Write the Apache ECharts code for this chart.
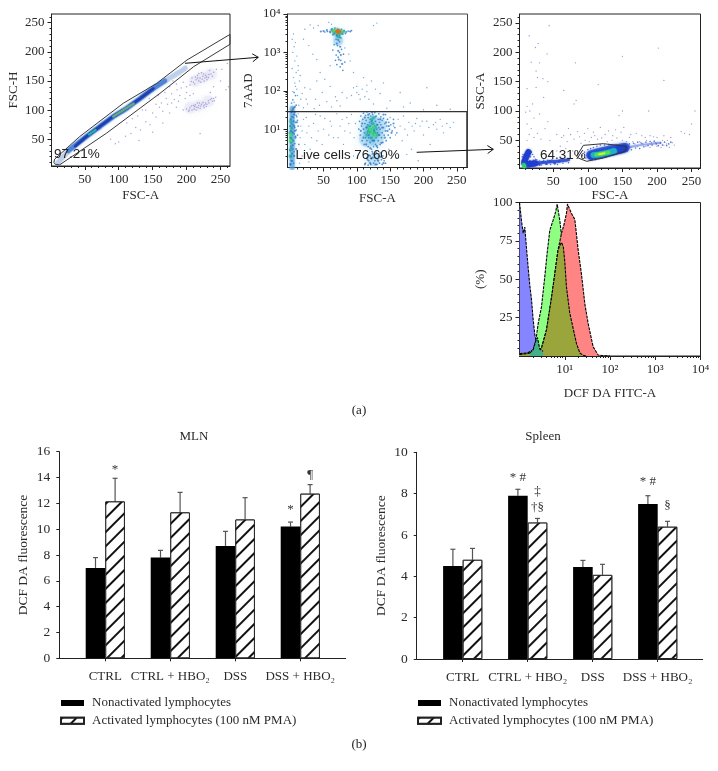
<!DOCTYPE html>
<html><head><meta charset="utf-8">
<style>html,body{margin:0;padding:0;background:#fff}#c{width:718px;height:771px}</style>
<script src="https://cdn.jsdelivr.net/npm/echarts@6/dist/echarts.min.js"></script>
</head><body><div id="c"></div>
<script>
// ---------- bar chart data ----------
const categories = ['CTRL', 'CTRL + HBO₂', 'DSS', 'DSS + HBO₂'];
const nameNon = 'Nonactivated lymphocytes';
const nameAct = 'Activated lymphocytes (100 nM PMA)';
const mlnNon = [7.0, 7.8, 8.7, 10.2];
const mlnAct = [12.15, 11.3, 10.75, 12.75];
const mlnNonTop = [7.8, 8.36, 9.83, 10.55];
const mlnActTop = [13.94, 12.85, 12.44, 13.45];
const spleenNon = [4.5, 7.9, 4.45, 7.5];
const spleenAct = [4.8, 6.6, 4.07, 6.4];
const spleenNonTop = [5.31, 8.21, 4.77, 7.9];
const spleenActTop = [5.35, 6.8, 4.58, 6.66];
const mlnMarks = [[0, 1, 14.6, '*'], [3, 1, 14.2, '¶'], [3, 0, 11.5, '*']];
const spleenMarks = [[1, 0, 8.77, '* #'], [1, 1, 8.1, '‡'], [1, 1, 7.34, '†§'], [3, 0, 8.58, '* #'], [3, 1, 7.42, '§']];

// ---------- panel 1: FSC-A / FSC-H ----------
const p1Gate = [[5.6,15.7],[42.6,54.6],[106.8,111.7],[156.2,146],[200.6,186],[264,230],[264,213],[210.5,174.6],[161,128.9],[82,60.3],[13,6],[7,6.5],[4.5,10],[5.6,15.7]];
const p1Faint = [[10,9],[30.2,34.6],[52.5,54.6],[72.2,71.7],[92,88.9],[111.7,103],[131.5,120],[151,137],[171,152],[190.7,166],[198,172]];
const p1Ridge = [[26,30],[52.5,54.6],[72.2,71.7],[92,88.9],[111.7,103],[131.5,120],[151,137],[168,150]];
const p1Core = [[36,38],[52.5,54.6],[72.2,71.7],[92,88.9],[111.7,103],[131.5,120],[151,137]];
const p1Green1 = [[56,58],[66,66]];
const p1Green2 = [[92,89],[122,111]];
const p1HazeA = [[205,104],[218,108],[232,115]];
const p1HazeB = [[212,150],[224,156],[236,162]];
const p1Sparse = [[195,100],[200,102],[205,104],[208,100],[212,106],[215,105],[218,108],[220,103],[222,110],[225,107],[228,112],[232,116],[235,118],[238,115],[240,120],[243,122],[210,108],[216,112],[226,104],[230,110],[203,98],[214,100],[219,112],[224,113],[207,107],[211,102],[217,104],[221,107],[227,109],[233,112],[237,120],[241,116],[204,100],[213,109],[229,106],
[205,143],[210,148],[214,152],[218,150],[220,155],[224,158],[228,160],[232,156],[236,162],[240,165],[226,150],[222,164],[216,160],[212,145],[234,168],[244,170],[230,152],[200,140],[208,155],[218,163],[227,155],[221,148],[216,155],[223,153],[229,157],[233,161],[238,158],[213,157],[207,149],[225,162],
[100,45],[110,55],[118,60],[125,70],[132,66],[140,80],[146,75],[150,95],[155,88],[160,105],[165,98],[170,120],[172,110],[178,128],[182,118],[186,135],[190,125],[195,148],[198,120],[185,105],[175,95],[165,78],[155,110],[180,150],[205,125],[240,140],[250,150],[258,135],[262,140],[252,170],[260,180],[245,185],[235,130],[220,60],[130,48],[95,42],[88,50],[120,85],[145,120],[135,100],[150,62],[168,130],[175,140],[185,145],[192,138],[200,130],[210,128],[178,112],[188,115],[163,112],[158,125],[140,100],[128,90],[112,78]];

// ---------- panel 2: FSC-A / 7AAD ----------
const p2Gate = [[-4,28.7],[265,28.7],[265,1]];
const p2Column = [[3,1],[3,4],[3,12],[3,35]];
const p2HazeMain = [[122,8.4],[118,14],[128,6],[132,12],[116,5.5]];
const p2HazeLobe = [[125,1.6]];
const p2HazeHot = [[70,3300],[72,2000]];
const p2Sparse = [[5,3000],[3,2200],[8,1800],[6,1400],[4,1000],[10,800],[7,600],[12,450],[3,380],[9,300],[5,220],[14,180],[8,130],[4,95],[11,75],[16,60],[6,50],[13,42],[20,36],[24,60],[22,4000],[30,5200],[35,4300],[42,5000],[58,6000],[62,5400],[125,5000],[130,5800],[20,2200],[28,1500],[34,900],[40,650],[45,300],[52,200],[60,130],[68,70],[38,60],[30,110],[48,90],[55,52],[75,40],[85,65],[95,120],[100,90],[103,80],[108,110],[112,70],[115,140],[118,60],[125,45],[135,85],[145,35],[150,55],[165,90],[180,48],[205,120],[220,42],[240,33],[110,220],[122,180],[95,300],[90,600],[88,900],[82,1300],[60,450],[140,160],[170,38],[200,32],[78,90],[92,75],[105,60],[100,130],[115,95],[128,110],[22,120],[15,250],[18,85],[26,45],[36,34],[44,42],[62,38],[70,55],[10,110],[7,160],[12,340],[40,180],
[20,18],[25,8],[30,3],[35,14],[40,5],[45,22],[50,10],[55,2.5],[60,16],[65,6],[70,25],[75,12],[80,4],[85,20],[90,8],[95,2],[98,14],[150,20],[155,12],[158,7],[162,18],[168,5],[172,10],[178,15],[182,3],[186,9],[190,19],[195,12],[200,7],[205,16],[210,4],[215,13],[220,10],[225,18],[230,8],[235,14],[240,11],[148,3],[152,2],[160,1.8],[175,2.2],[192,1.5],[18,2],[28,1.4],[15,6],[12,25],[16,12],[22,4],[14,1.3],[18,9],[24,20],[28,12],[32,6],[38,24],[42,9],[48,4],[52,19],[58,7],[62,12],[72,6],[78,18],[82,9],[88,14],[92,24],[96,6],[165,12],[170,22],[176,7],[183,12],[188,14],[198,16],[208,11],[218,15],[228,12],[245,15]];
const p2Fine = [[1,1.2],[3,1.5],[5,1.3],[2,2],[6,2.6],[4,3],[1,3.6],[7,4.2],[5,5],[2,5.8],[8,6.5],[6,7.5],[3,8.5],[9,9.5],[7,11],[4,13],[8,15],[11,17],[5,20],[9,23],[7,27],[3,30],[5,36],[9,42],[2,48],[11,7],[12,12],[10,21],[13,4],[4,58],[8,75],[6,90],
[103,10],[104,16],[105,7],[106,22],[107,12],[108,5],[109,18],[110,10],[110,26],[111,4],[112,8],[112,14],[113,6],[113,23],[114,11],[114,17],[115,5],[115,28],[116,8],[116,13],[117,3.5],[117,20],[118,6],[118,10],[119,15],[119,25],[120,4.5],[120,8],[120,12],[120,18],[121,6],[121,22],[122,3],[122,10],[122,14],[123,5],[123,8],[123,17],[124,11],[124,24],[125,3.5],[125,7],[125,14],[125,19],[126,5],[126,10],[127,12],[127,27],[128,4],[128,8],[128,16],[129,6],[129,22],[130,10],[130,13],[131,3.3],[131,8],[132,5],[132,18],[133,11],[133,25],[134,7],[134,15],[135,4],[135,10],[136,13],[136,21],[137,6],[138,8],[138,17],[139,4.5],[140,11],[140,19],[141,7],[142,14],[143,9],[143,24],[144,5],[145,12],[146,18],[147,7],[148,15],[149,10],[150,6],[151,13],[153,9],[155,18],[157,11],[160,8],
[113,1.3],[115,1.8],[117,1.15],[118,1.5],[120,2],[121,1.2],[122,1.7],[123,2.6],[125,1.3],[126,2.1],[127,1.5],[128,1.8],[129,2.5],[130,1.2],[131,1.6],[133,2],[134,1.3],[135,2.4],[137,1.6],[138,1.2],[139,2],[141,1.5],[143,1.3],
[52,3400],[56,3500],[60,3300],[63,4100],[66,3000],[67,4300],[70,2700],[71,4000],[73,3900],[74,2800],[77,4000],[79,3000],[81,3700],[83,3100],[87,3600],[92,3700],[64,2900],[76,2400],[69,2200],[74,1900],[66,1600],[71,1500],[77,1200],[74,1000],[69,850],[72,750],[80,900],[76,620],[70,480],[75,420],[82,560],[68,620],[79,340],[64,1150]];
const p2Mid = [[0,1.2],[2,1.5],[1,1.9],[3,2.3],[0,2.8],[2,3.2],[4,3.8],[1,4.5],[3,5.2],[0,6],[2,7],[4,8],[1,9],[3,10.5],[0,12],[2,14],[5,16],[1,18],[3,21],[6,24],[2,28],[4,33],[7,38],[6,12],[8,6],[9,3],[6,2],[7,9],[10,15],
[106,9],[108,14],[110,6],[112,20],[114,4],[115,11],[117,24],[118,7],[120,3.2],[122,16],[123,27],[125,5],[126,9],[128,21],[130,3.6],[131,13],[133,7],[135,18],[137,4.4],[138,11],[140,24],[142,6],[144,15],[146,9],[148,12],[112,1.2],[116,1.6],[120,1.3],[124,1.8],[128,1.2],[132,1.5],[136,1.9],[140,1.3],[124,2.3],[118,2.1],[152,8],[155,14],
[55,3800],[60,3500],[62,3900],[66,3200],[70,2800],[74,2500],[78,3100],[84,3400],[90,3500],[72,2100],[70,1700],[75,1400],[72,1100],[76,850],[73,650],[78,500],[46,3500],[50,3600]];
const p2Teal = [[1,3],[2,5],[0,8],[2,11],[1,16],[0,2],[115,7],[118,12],[120,9],[122,6],[124,14],[126,8],[128,11],[122,18],[130,7],[117,9],[125,20],[72,3000],[68,3300],[76,3200],[80,3500],[64,3600],[72,2500]];
const p2Green = [[122,8],[125,11],[120,10],[127,7],[70,3500],[76,3500],[66,3700],[0.5,5],[1,7]];
const p2Hot = [[72,3450],[74,3500],[70,3550]];

// ---------- panel 3: FSC-A / SSC-A ----------
const p3Gate = [[83.7,22.9],[93.4,41.5],[122.3,44.4],[156,39.8],[153.6,31.4],[122.3,20],[98.2,14.4],[86,20],[83.7,22.9]];
const p3Halo = [[104,25],[116,29],[130,33],[144,36],[154,38]];
const p3Body = [[106,24],[118,26.5],[130,29.5],[142,33],[152,36]];
const p3Cyan = [[108,25],[118,26.5],[130,29.5],[138,32]];
const p3Lime = [[112,25.5],[120,27],[130,29.5]];
const p3Yellow = [[116,26.5],[124,28]];
const p3TailR = [[150,36],[170,41],[190,44],[205,46]];
const p3Left = [[14,30],[10,20],[8,12],[12,9],[24,11]];
const p3TailL = [[20,11],[40,13],[60,15],[72,17]];
const p3Corner = [[7,8],[8,6]];
const p3Sparse = [[44,245],[15,228],[28,215],[24,208],[41,197],[18,183],[30,182],[82,182],[202,207],[210,152],[150,193],[25,168],[27,157],[35,155],[12,138],[25,140],[42,150],[36,123],[83,118],[115,145],[188,100],[150,100],[255,100],[145,92],[20,112],[12,108],[16,100],[10,98],[65,135],[80,112],[30,95],[22,88],[42,82],[12,78],[38,70],[18,70],[27,62],[15,60],[22,55],[32,52],[12,50],[45,50],[55,60],[62,55],[70,48],[75,60],[80,52],[85,65],[90,45],[95,62],[100,70],[105,55],[110,58],[118,72],[125,60],[130,66],[135,50],[140,68],[148,64],[152,72],[160,55],[165,48],[170,62],[178,58],[185,50],[190,58],[196,48],[200,55],[205,46],[210,58],[215,50],[220,55],[225,42],[235,65],[240,62],[247,60],[250,78],[60,40],[68,36],[78,32],[55,32],[160,42],[172,40],[180,44],[192,46],[200,40],[210,42],[218,38],[222,46],[190,38],[65,58],[72,70],[88,56],[96,50],[102,48],[108,64],[114,52],[120,54],[128,48],[136,58],[142,54],[150,50],[156,48],[162,60],[175,48],[183,55],[195,56],[208,50],[214,44],[184,40],[198,46],[206,38],[176,46],[168,44],[162,38]];
const p3Fine = [[92,24],[95,30],[97,20],[100,34],[102,19],[104,36],[106,18],[108,38],[111,17],[113,40],[116,19],[118,42],[121,20],[124,42],[127,22],[130,43],[133,24],[136,41],[139,26],[142,42],[145,28],[148,42],[151,30],[154,42],[157,32],[160,44],[163,34],[166,45],[169,37],[172,47],[175,36],[178,45],[181,39],[184,47],[187,41],[190,48],[193,42],[196,49],[199,44],[202,41],[205,45],[208,42],[211,47],[214,41],[217,44],[220,47],
[18,30],[20,26],[22,22],[24,18],[13,34],[17,22],[21,16],[26,17],[28,9],[30,15],[33,8],[36,16],[38,11],[42,16],[46,9],[48,17],[52,14],[56,9],[60,17],[64,11],[68,15],[72,12],[5,16],[5,22],[6,26],[4,10]];
const p3Mid = [[9,6],[6,14],[8,18],[10,12],[12,8],[14,10],[11,20],[13,26],[16,14],[18,9],[20,11],[23,8],[26,12],[30,9],[35,13],[40,10],[45,14],[52,11],[58,15]];

// ---------- panel 4: histogram ----------
const histBlue = [[1,100],[1.02,98],[1.107,88],[1.205,80],[1.31,84],[1.43,70],[1.55,58],[1.69,46],[1.84,37],[2,24],[2.18,14],[2.37,9],[2.8,4],[3.33,2],[3.95,1.5],[5,1],[7,0.6],[10,0.3]];
const histGreen = [[1,1.5],[1.5,2],[2,4],[2.3,10],[2.58,21],[3.06,32],[3.63,52],[4.08,67],[4.68,82],[5.54,88.5],[6.3,94],[6.8,99],[7.8,88],[8.9,73],[10.05,61],[10.9,45],[12.9,28],[18.2,8],[21.6,2],[25.4,0.5],[40,0]];
const histRed = [[1,1],[1.5,1.6],[2,2.2],[2.4,2.8],[3.06,5],[3.95,17],[5.1,38],[6,53],[7.1,69],[8.5,80],[9.7,86],[10.9,93],[11.5,99],[14,93],[16.7,89],[19.8,69],[23.5,53],[27.8,34],[33,21],[42.4,6],[54.7,0.6],[70,0.2],[100,0]];
const histOlive = [[1,1],[1.5,1.6],[2,2.2],[2.4,2.8],[3.06,5],[3.95,17],[5.1,38],[6,53],[7.1,69],[7.8,72],[8.5,74],[9.3,71],[10.05,61],[10.9,45],[12.9,28],[18.2,8],[21.6,2],[25.4,0.5],[30,0]];
const histTeal = [[1.7,2],[2,4],[2.3,10],[2.5,12],[2.8,4.5],[3.06,4.6],[3.33,3]];

// ---------- tick labels ----------
const linTicks = [50, 100, 150, 200, 250];
const linMinor = [10,20,30,40,60,70,80,90,110,120,130,140,160,170,180,190,210,220,230,240,260];
const logTicks = [10, 100, 1000, 10000];
const logTickLabels = {10:'10¹', 100:'10²', 1000:'10³', 10000:'10⁴'};
const logMinor = [2,3,4,5,6,7,8,9,20,30,40,50,60,70,80,90,200,300,400,500,600,700,800,900,2000,3000,4000,5000,6000,7000,8000,9000];
const histTicks = [25, 50, 75, 100];
const histMinor = [5,10,15,20,30,35,40,45,55,60,65,70,80,85,90,95];

// ---------- style ----------
const SERIF = '"Liberation Serif", serif';
const SANS = '"Liberation Sans", sans-serif';
const INK = '#2a2a2a';
const axisName = (extra) => Object.assign({fontFamily: SERIF, fontSize: 13, color: INK}, extra);

const grids = [
  {left: 51.5, top: 14, width: 178.5, height: 152},
  {left: 287.5, top: 14, width: 180, height: 153.5},
  {left: 519.5, top: 14, width: 181, height: 154},
  {left: 519.5, top: 202.5, width: 181, height: 153.5},
  {left: 72.8, top: 451.7, width: 260, height: 206.6},
  {left: 430.2, top: 452.3, width: 260, height: 206.7},
  {left: 59.3, top: 451.7, width: 286.4, height: 206.6},
  {left: 416.7, top: 452.3, width: 286, height: 206.7}
].map((g, i) => Object.assign(g, i < 4 ? {show: true, borderColor: i === 1 ? '#444' : '#222', borderWidth: 1, backgroundColor: 'transparent'} : {}));

const xAxes = [], yAxes = [];
function flowAxis(list, dim, gi, spec) {
  const isX = dim === 'x';
  list.push({
    gridIndex: gi, type: spec.type, min: spec.min, max: spec.max, logBase: 10,
    position: isX ? 'bottom' : 'left',
    name: spec.name, nameLocation: 'middle', nameGap: spec.gap, nameRotate: isX ? 0 : 90, nameTextStyle: axisName({}),
    axisLine: {show: true, onZero: false, lineStyle: {color: '#222', width: 1}},
    axisTick: {show: true, length: 4, lineStyle: {color: '#222'}, customValues: spec.ticks},
    axisLabel: {show: true, margin: 7, fontFamily: SERIF, fontSize: 13, color: INK, customValues: spec.ticks,
      formatter: v => spec.labels ? spec.labels[v] : String(v), showMinLabel: true, showMaxLabel: true},
    splitLine: {show: false}
  });
  list.push({
    gridIndex: gi, type: spec.type, min: spec.min, max: spec.max, logBase: 10,
    position: isX ? 'bottom' : 'left',
    axisLine: {show: false, onZero: false},
    axisTick: {show: true, length: 2, lineStyle: {color: '#222'}, customValues: spec.minor},
    axisLabel: {show: false}, splitLine: {show: false}
  });
  return list.length - 2;
}
const p1x = flowAxis(xAxes, 'x', 0, {type: 'value', min: 1, max: 264, ticks: linTicks, minor: linMinor, name: 'FSC-A', gap: 23});
const p1y = flowAxis(yAxes, 'y', 0, {type: 'value', min: 4, max: 265, ticks: linTicks, minor: linMinor, name: 'FSC-H', gap: 31});
const p2x = flowAxis(xAxes, 'x', 1, {type: 'value', min: -4, max: 266, ticks: linTicks, minor: linMinor, name: 'FSC-A', gap: 25});
const p2y = flowAxis(yAxes, 'y', 1, {type: 'log', min: 1, max: 10000, ticks: logTicks, labels: logTickLabels, minor: logMinor, name: '7AAD', gap: 32});
const p3x = flowAxis(xAxes, 'x', 2, {type: 'value', min: 1, max: 263, ticks: linTicks, minor: linMinor, name: 'FSC-A', gap: 21});
const p3y = flowAxis(yAxes, 'y', 2, {type: 'value', min: 3, max: 265, ticks: linTicks, minor: linMinor, name: 'SSC-A', gap: 32});
const p4x = flowAxis(xAxes, 'x', 3, {type: 'log', min: 1, max: 10000, ticks: logTicks, labels: logTickLabels, minor: logMinor, name: 'DCF DA FITC-A', gap: 31});
const p4y = flowAxis(yAxes, 'y', 3, {type: 'value', min: 0, max: 100, ticks: histTicks, minor: histMinor, name: '(%)', gap: 32});

function barAxes(gi, gridBase, ymax, yint, offs, nameGap) {
  xAxes.push({gridIndex: gi, type: 'category', data: categories,
    axisLine: {show: true, lineStyle: {color: '#222'}},
    axisTick: {show: true, alignWithLabel: true, length: 3, lineStyle: {color: '#222'}},
    axisLabel: {margin: 12, fontFamily: SERIF, fontSize: 13, color: INK, interval: 0}, splitLine: {show: false}});
  const xi = xAxes.length - 1;
  yAxes.push({gridIndex: gi, type: 'value', min: 0, max: ymax, interval: yint, offset: offs,
    name: 'DCF DA fluorescence', nameLocation: 'middle', nameGap, nameTextStyle: axisName({fontSize: 13.5}),
    axisLine: {show: true, onZero: false, lineStyle: {color: '#222'}},
    axisTick: {show: true, length: 3, lineStyle: {color: '#222'}},
    axisLabel: {margin: 9, fontFamily: SERIF, fontSize: 13.5, color: INK}, splitLine: {show: false}});
  const yi = yAxes.length - 1;
  xAxes.push({gridIndex: gridBase, type: 'value', min: 0, max: 1,
    axisLine: {show: true, onZero: false, lineStyle: {color: '#222'}}, axisTick: {show: false}, axisLabel: {show: false}, splitLine: {show: false}});
  yAxes.push({gridIndex: gridBase, type: 'value', min: 0, max: 1, show: false});
  return [xi, yi];
}
const [mx, my] = barAxes(4, 6, 16, 2, 13.5, 29);
const [sx, sy] = barAxes(5, 7, 10, 2, 13.5, 28);

const BARW = 19.6;
const hatch = {symbol: 'rect', symbolSize: 1, rotation: -Math.PI / 4, dashArrayX: [1, 0], dashArrayY: [1.4, 7.5], color: '#111', backgroundColor: '#fff'};

function dots(xi, yi, data, size, color, opacity, z, blur) {
  return {type: 'scatter', xAxisIndex: xi, yAxisIndex: yi, data, symbolSize: size, silent: true, z: z || 2,
    itemStyle: {color, opacity: opacity == null ? 1 : opacity, shadowBlur: blur || 0, shadowColor: color}};
}
function path(xi, yi, data, color, width, z, op, blur) {
  return {type: 'line', xAxisIndex: xi, yAxisIndex: yi, data, showSymbol: false, symbol: 'none', silent: true, z: z || 3, smooth: 0.2,
    lineStyle: {color, width, opacity: op == null ? 1 : op, cap: 'round', join: 'round', shadowBlur: blur || 0, shadowColor: color}};
}
function gate(xi, yi, data, color, width) {
  return {type: 'line', xAxisIndex: xi, yAxisIndex: yi, data, showSymbol: false, symbol: 'none', silent: true, z: 6,
    lineStyle: {color, width}};
}
function hist(data, fill, z) {
  return {type: 'line', xAxisIndex: p4x, yAxisIndex: p4y, data, showSymbol: false, symbol: 'none', silent: true, z,
    lineStyle: {color: '#000', width: 1.1, type: [3, 1]}, areaStyle: {color: fill, opacity: 1}};
}
function bars(xi, yi, name, data, isHatched) {
  return {type: 'bar', name, xAxisIndex: xi, yAxisIndex: yi, data, barWidth: BARW, barGap: '0%', silent: true, z: 2,
    itemStyle: isHatched ? {color: '#fff', borderColor: '#222', borderWidth: 1, decal: hatch} : {color: '#000'}};
}
function errs(xi, yi, base, tops, side) {
  return {type: 'custom', xAxisIndex: xi, yAxisIndex: yi, silent: true, z: 1,
    data: base.map((v, i) => [i, v, tops[i]]),
    encode: {x: 0, y: [1, 2]},
    renderItem: (p, api) => {
      const a = api.coord([api.value(0), api.value(1)]);
      const b = api.coord([api.value(0), api.value(2)]);
      const x = a[0] + side * BARW / 2;
      const st = {stroke: '#555', lineWidth: 1.2};
      return {type: 'group', children: [
        {type: 'line', shape: {x1: x, y1: a[1], x2: x, y2: b[1]}, style: st},
        {type: 'line', shape: {x1: x - 2.5, y1: b[1], x2: x + 2.5, y2: b[1]}, style: st}
      ]};
    }};
}
function marks(xi, yi, list) {
  return {type: 'custom', xAxisIndex: xi, yAxisIndex: yi, silent: true, z: 4,
    data: list.map(m => [m[0], m[2]]),
    encode: {x: 0, y: 1},
    renderItem: (p, api) => {
      const m = list[p.dataIndex];
      const c = api.coord([api.value(0), api.value(1)]);
      return {type: 'text', x: c[0] + (m[1] ? 1 : -1) * BARW / 2, y: c[1],
        style: {text: m[3], fontFamily: SERIF, fontSize: 13, fill: '#333', align: 'center', verticalAlign: 'middle'}};
    }};
}

const TL = '#25b5a0', GR = '#3fe060', OR = '#e86a10', DK = '#1f3fb0';
const series = [
  // panel 1
  dots(p1x, p1y, p1HazeA, 12, '#b8b6e4', 0.15, 1, 6),
  dots(p1x, p1y, p1HazeB, 12, '#b8b6e4', 0.15, 1, 6),
  dots(p1x, p1y, p1Sparse, 1.5, '#8f8cc8', 0.75),
  path(p1x, p1y, p1Faint, '#a8c0e4', 5, 2, 0.5, 2),
  path(p1x, p1y, p1Ridge, '#4a80d8', 4.5, 2, 0.85, 2),
  path(p1x, p1y, p1Core, DK, 2.4, 3, 1, 1),
  path(p1x, p1y, p1Green1, TL, 2, 3),
  path(p1x, p1y, p1Green2, '#62a880', 2.6, 3),
  gate(p1x, p1y, p1Gate, '#3a3a3a', 1),
  // panel 2
  dots(p2x, p2y, p2HazeMain, 17, '#6ab8e4', 0.3, 1, 8),
  dots(p2x, p2y, p2HazeLobe, 13, '#6ab8e4', 0.28, 1, 6),
  dots(p2x, p2y, p2HazeHot, 10, '#6ab8e4', 0.35, 1, 5),
  path(p2x, p2y, p2Column, '#4aa0d8', 5, 1, 0.55, 3),
  dots(p2x, p2y, p2Sparse, 1.4, '#4a95cc', 0.8),
  dots(p2x, p2y, p2Fine, 1.7, '#2f80cc', 0.85),
  dots(p2x, p2y, p2Mid, 2.2, '#2a68c0', 0.7, 2),
  dots(p2x, p2y, p2Teal, 3, TL, 0.75, 3, 3),
  dots(p2x, p2y, p2Green, 3, GR, 0.85, 3, 3),
  dots(p2x, p2y, p2Hot, 3.2, OR, 1, 4, 2),
  gate(p2x, p2y, p2Gate, '#333', 1.2),
  // panel 3
  dots(p3x, p3y, p3Sparse, 1.3, '#6f78c0', 0.75),
  dots(p3x, p3y, p3Fine, 1.6, '#3a5cd0', 0.85),
  dots(p3x, p3y, p3Mid, 2.4, '#2a4fd0', 0.8, 2, 1),
  path(p3x, p3y, p3TailR, '#6a80e0', 2, 2, 0.5, 2),
  path(p3x, p3y, p3TailL, '#3050d8', 3, 2, 0.85, 2),
  path(p3x, p3y, p3Left, '#1f3ed0', 6, 3, 1, 2),
  path(p3x, p3y, p3Corner, '#30d070', 4, 4, 1, 2),
  path(p3x, p3y, p3Halo, '#2a50d8', 9, 2, 0.85, 3),
  path(p3x, p3y, p3Body, '#1f40c8', 8, 3, 1, 2),
  path(p3x, p3y, p3Cyan, '#20b0c8', 5.5, 4, 1, 2),
  path(p3x, p3y, p3Lime, '#50e050', 3.4, 5, 1, 1),
  path(p3x, p3y, p3Yellow, '#d8f030', 1.5, 5, 1, 1),
  gate(p3x, p3y, p3Gate, '#333', 1),
  // panel 4
  hist(histBlue, '#8585ff', 2),
  hist(histGreen, '#8fff84', 3),
  hist(histRed, '#ff8585', 4),
  hist(histOlive, '#9aa63c', 5),
  hist(histTeal, '#45b088', 6),
  // MLN
  bars(mx, my, nameNon, mlnNon, false),
  bars(mx, my, nameAct, mlnAct, true),
  errs(mx, my, mlnNon, mlnNonTop, -1),
  errs(mx, my, mlnAct, mlnActTop, 1),
  marks(mx, my, mlnMarks),
  // Spleen
  bars(sx, sy, nameNon, spleenNon, false),
  bars(sx, sy, nameAct, spleenAct, true),
  errs(sx, sy, spleenNon, spleenNonTop, -1),
  errs(sx, sy, spleenAct, spleenActTop, 1),
  marks(sx, sy, spleenMarks)
];

function legend(left) {
  return {left, top: 696.5, padding: 0, orient: 'vertical', itemWidth: 23, itemHeight: 6, itemGap: 4.8, selectedMode: false,
    data: [nameNon, nameAct], icon: 'rect',
    textStyle: {fontFamily: SERIF, fontSize: 13, color: INK, padding: [0, 0, 0, 3]}};
}
function txt(x, y, t, font, size, align) {
  return {type: 'text', x, y, silent: true, z: 20,
    style: {text: t, fontFamily: font, fontSize: size, fill: '#222', align: align || 'left', verticalAlign: 'middle'}};
}
function arrow(x1, y1, x2, y2) {
  const a = Math.atan2(y2 - y1, x2 - x1), L = 7;
  const h1 = [x2 - L * Math.cos(a - 0.6), y2 - L * Math.sin(a - 0.6)];
  const h2 = [x2 - L * Math.cos(a + 0.6), y2 - L * Math.sin(a + 0.6)];
  const st = {stroke: '#111', lineWidth: 1, fill: null};
  return [
    {type: 'line', silent: true, z: 20, shape: {x1, y1, x2, y2}, style: st},
    {type: 'polyline', silent: true, z: 20, shape: {points: [h1, [x2, y2], h2]}, style: st}
  ];
}

const option = {
  animation: false,
  backgroundColor: '#fff',
  title: [
    {text: 'MLN', left: 194, top: 430, textAlign: 'center', padding: 0, textStyle: {fontFamily: SERIF, fontSize: 13, fontWeight: 'normal', color: INK}},
    {text: 'Spleen', left: 543, top: 430, textAlign: 'center', padding: 0, textStyle: {fontFamily: SERIF, fontSize: 13, fontWeight: 'normal', color: INK}}
  ],
  grid: grids, xAxis: xAxes, yAxis: yAxes, series,
  legend: [legend(60), legend(417)],
  graphic: [
    txt(54, 154, '97.21%', SANS, 13.5),
    txt(295.5, 155, 'Live cells 76.60%', SANS, 13.4),
    txt(540, 155, '64.31%', SANS, 13.5),
    txt(359, 411, '(a)', SERIF, 13, 'center'),
    txt(359, 745, '(b)', SERIF, 13, 'center'),
    ...arrow(185, 63.3, 258.3, 57.3),
    ...arrow(416.7, 152.3, 493.3, 149.3)
  ]
};
echarts.init(document.getElementById('c'), null, {renderer: 'canvas'}).setOption(option);
</script></body></html>
